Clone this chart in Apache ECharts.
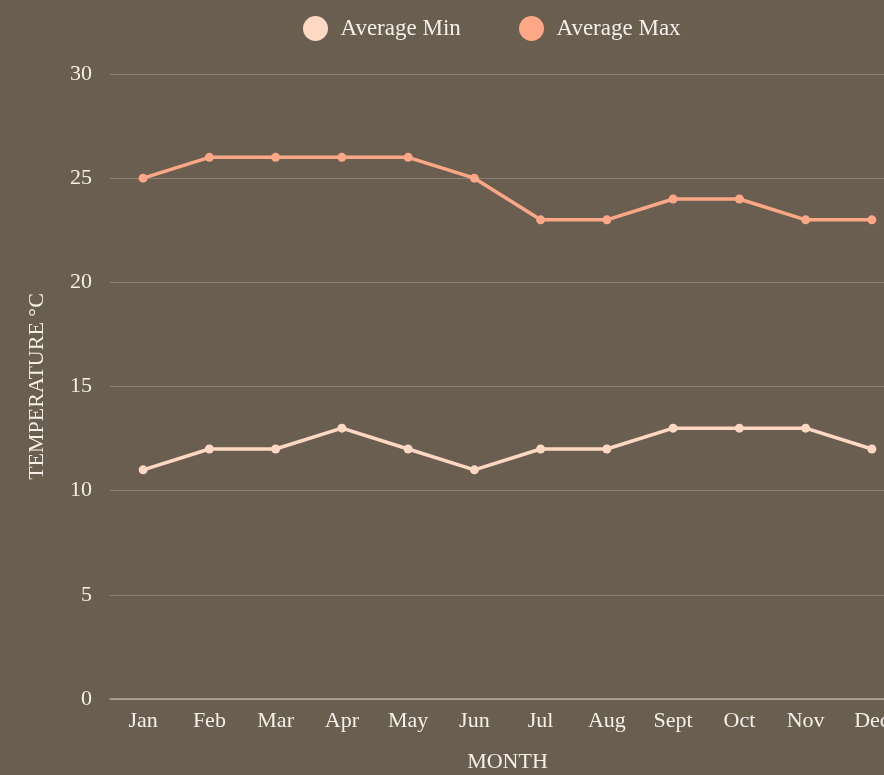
<!DOCTYPE html>
<html><head><meta charset="utf-8">
<script src="https://cdn.jsdelivr.net/npm/echarts@6/dist/echarts.min.js"></script>
<style>html,body{margin:0;padding:0;background:#6a5e50;}#c{width:884px;height:775px;}</style>
</head><body><div id="c"></div>
<script>
const months = ['Jan','Feb','Mar','Apr','May','Jun','Jul','Aug','Sept','Oct','Nov','Dec'];
const avgMin = [11,12,12,13,12,11,12,12,13,13,13,12];
const avgMax = [25,26,26,26,26,25,23,23,24,24,23,23];
const yTicks = {min:0, max:30, interval:5};
const FONT = '"Liberation Serif", "DejaVu Serif", serif';
const legendBase = {
  top:11, itemWidth:40, itemHeight:25, icon:'circle',
  textStyle:{color:'#f4efe9', fontSize:23, fontFamily:FONT}
};
const chart = echarts.init(document.getElementById('c'));
chart.setOption({
  backgroundColor:'#6a5e50',
  animation:false,
  textStyle:{fontFamily:FONT},
  legend:[
    Object.assign({}, legendBase, {left:298, data:['Average Min']}),
    Object.assign({}, legendBase, {left:514, data:['Average Max']})
  ],
  grid:{left:110, top:74, width:795, height:625, containLabel:false, outerBoundsMode:'none'},
  xAxis:{
    type:'category', data:months, boundaryGap:true,
    name:'MONTH', nameLocation:'middle', nameGap:52,
    nameTextStyle:{color:'#f4efe9', fontSize:22, fontFamily:FONT},
    axisLine:{show:true, lineStyle:{color:'#b3aaa0', width:1.5}},
    axisTick:{show:false},
    axisLabel:{color:'#f4efe9', fontSize:22, margin:11, fontFamily:FONT, interval:0, hideOverlap:false}
  },
  yAxis:{
    type:'value', min:yTicks.min, max:yTicks.max, interval:yTicks.interval,
    name:'TEMPERATURE °C', nameLocation:'middle', nameGap:62,
    nameTextStyle:{color:'#f4efe9', fontSize:22, fontFamily:FONT},
    axisLine:{show:false}, axisTick:{show:false},
    axisLabel:{color:'#f4efe9', fontSize:22, margin:18, fontFamily:FONT},
    splitLine:{lineStyle:{color:'#8b8174', width:1}}
  },
  series:[
    {name:'Average Min', type:'line', data:avgMin, symbol:'circle', symbolSize:9,
     itemStyle:{color:'#ffd8c4'}, lineStyle:{color:'#ffd8c4', width:3.5}},
    {name:'Average Max', type:'line', data:avgMax, symbol:'circle', symbolSize:9,
     itemStyle:{color:'#fca785'}, lineStyle:{color:'#fca785', width:3.5}}
  ]
});
</script></body></html>
